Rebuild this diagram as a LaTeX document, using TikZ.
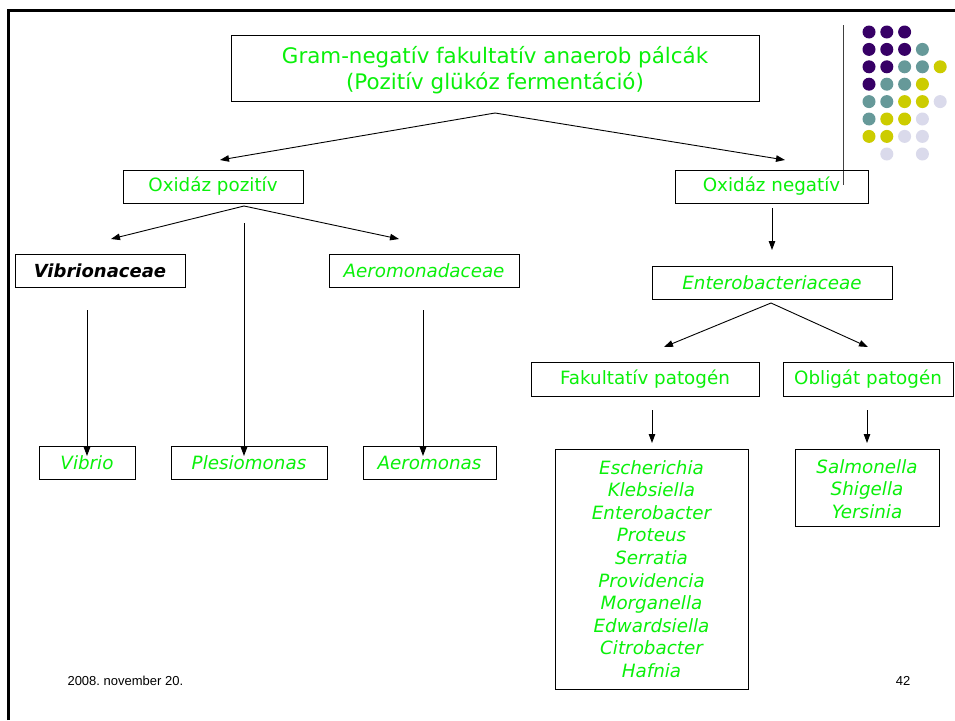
\documentclass[tikz,border=0pt]{standalone}
\usepackage{fontspec}
\setmainfont{DejaVu Sans}
\newfontfamily\footfont{Liberation Sans}
\usetikzlibrary{arrows.meta}
\frenchspacing
\definecolor{lime}{RGB}{10,240,10}
\definecolor{dpurple}{RGB}{55,0,102}
\definecolor{dteal}{RGB}{102,153,153}
\definecolor{dyellow}{RGB}{204,204,0}
\definecolor{dlav}{RGB}{218,218,235}
\begin{document}
\begin{tikzpicture}[x=1pt,y=-1pt,
  box/.style={draw=black,line width=0.9pt,inner sep=0pt,text=lime,align=center},
  arr/.style={line width=0.9pt,-{Triangle[length=9pt,width=6.5pt]}},
  lbl/.style={font=\fontsize{18.3}{22}\selectfont},
  spec/.style={font=\fontsize{18.3}{22.6}\selectfont\itshape},
  dot/.style={circle,inner sep=0pt,minimum size=13pt}]
\useasboundingbox (0,0) rectangle (955,720);
\fill[white] (0,0) rectangle (955,720);
% frame
\draw[line width=3pt] (8.5,720) -- (8.5,10.5) -- (955,10.5);
% decoration line and dots
\draw[line width=0.9pt,black!75] (843,25) -- (843,185);
\foreach \r/\cols in {0/{dpurple,dpurple,dpurple},1/{dpurple,dpurple,dpurple,dteal},2/{dpurple,dpurple,dteal,dteal,dyellow},3/{dpurple,dteal,dteal,dyellow},4/{dteal,dteal,dyellow,dyellow,dlav},5/{dteal,dyellow,dyellow,dlav},6/{dyellow,dyellow,dlav,dlav}}{
  \foreach \c [count=\i from 0] in \cols {
    \node[dot,fill=\c] (d\r\i) at (869+17.8*\i,32+17.4*\r) {};
  }
}
\node[dot,fill=dlav] (d71) at (886.8,154) {};
\node[dot,fill=dlav] (d73) at (922.4,154) {};
% title
\node[box,minimum width=528pt,minimum height=66pt] (title) at (495,68) {};
\node[text=lime,align=center,font=\fontsize{21.4}{26}\selectfont] (titletext) at (495,70.5) {Gram-negatív fakultatív anaerob pálcák\\(Pozitív glükóz fermentáció)};
% level 2
\node[box,lbl,minimum width=180pt,minimum height=33pt] (ox1) at (213,186.5) {Oxidáz pozitív};
\node[box,lbl,minimum width=193pt,minimum height=33pt] (ox2) at (771.5,186.5) {Oxidáz negatív};
% level 3
\node[box,minimum width=170pt,minimum height=33pt,text=black,font=\fontsize{18}{22}\selectfont\bfseries\itshape] (vibn) at (100,270.5) {Vibrionaceae};
\node[box,spec,minimum width=190pt,minimum height=33pt] (aerd) at (424,270.5) {Aeromonadaceae};
\node[box,spec,minimum width=240pt,minimum height=33pt] (ent) at (772,282.5) {Enterobacteriaceae};
% level 4
\node[box,spec,minimum width=96pt,minimum height=33pt] (vib) at (87,462.5) {Vibrio};
\node[box,spec,minimum width=156pt,minimum height=33pt] (ples) at (249,462.5) {Plesiomonas};
\node[box,spec,minimum width=133pt,minimum height=33pt] (aer) at (429.5,462.5) {Aeromonas};
\node[box,lbl,minimum width=228pt,minimum height=34pt] (fak) at (645,379) {Fakultatív patogén};
\node[box,lbl,minimum width=170pt,minimum height=34pt] (obl) at (868,379) {Obligát patogén};
% lists
\node[box,spec,minimum width=193pt,minimum height=240pt] (list1) at (651.5,569) {Escherichia\\Klebsiella\\Enterobacter\\Proteus\\Serratia\\Providencia\\Morganella\\Edwardsiella\\Citrobacter\\Hafnia};
\node[box,spec,minimum width=144pt,minimum height=77pt] (list2) at (867,487.5) {};
\node[text=lime,align=center,font=\fontsize{18.3}{22.6}\selectfont\itshape] (list2text) at (867,489) {Salmonella\\Shigella\\Yersinia};
% connector coordinates
\coordinate (ta) at (495,113);
\coordinate (tl) at (220,160);
\coordinate (tr) at (785,160);
\coordinate (pa) at (244,206);
\coordinate (pl) at (111,239);
\coordinate (pr) at (399,239);
\coordinate (pm) at (244,223);
\coordinate (pmb) at (244,456);
\coordinate (va) at (87,310);
\coordinate (vb) at (87,456);
\coordinate (aa) at (423,310);
\coordinate (ab) at (423,456);
\coordinate (na) at (772,208);
\coordinate (nb) at (772,250);
\coordinate (ea) at (771,303);
\coordinate (el) at (664,347);
\coordinate (er) at (868,347);
\coordinate (fa) at (652,410);
\coordinate (fb) at (652,443);
\coordinate (oa) at (867,410);
\coordinate (ob) at (867,443);
% connectors
\draw[arr] (ta) -- (tl);
\draw[arr] (ta) -- (tr);
\draw[arr] (pa) -- (pl);
\draw[arr] (pa) -- (pr);
\draw[arr] (pm) -- (pmb);
\draw[arr] (va) -- (vb);
\draw[arr] (aa) -- (ab);
\draw[arr] (na) -- (nb);
\draw[arr] (ea) -- (el);
\draw[arr] (ea) -- (er);
\draw[arr] (fa) -- (fb);
\draw[arr] (oa) -- (ob);
% footer
\node[font=\footfont\fontsize{13}{15}\selectfont,anchor=west] (date) at (64,681) {2008. november 20.};
\node[font=\footfont\fontsize{13}{15}\selectfont] (page) at (903,681) {42};
\end{tikzpicture}
\end{document}
